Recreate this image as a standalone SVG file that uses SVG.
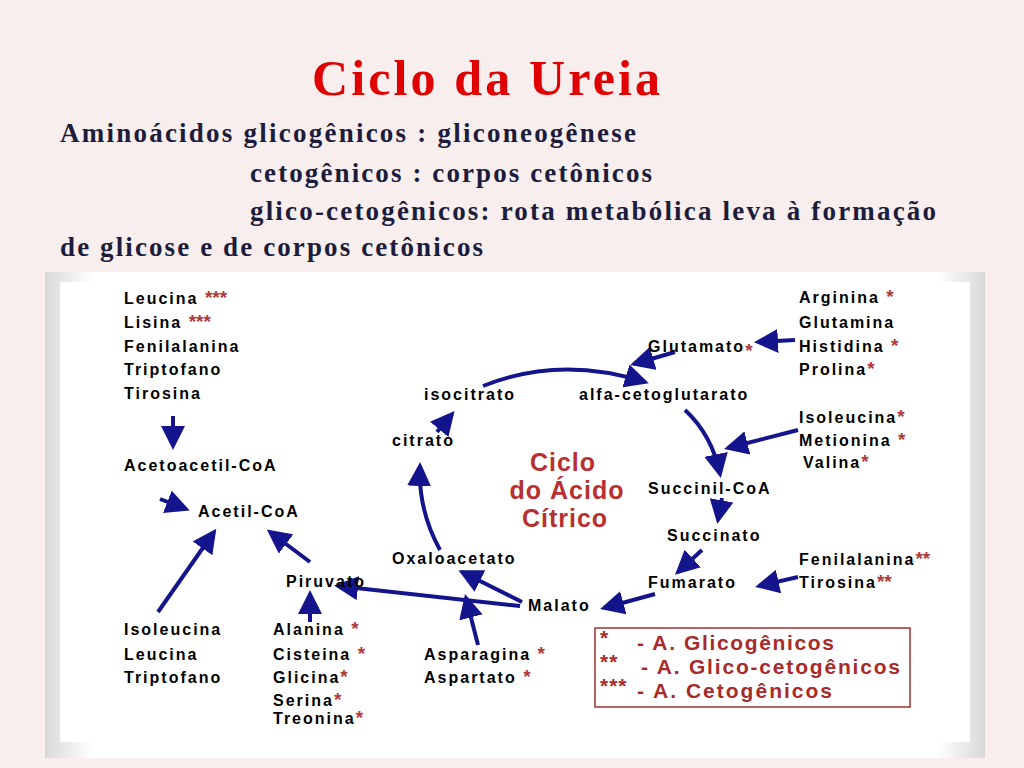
<svg xmlns="http://www.w3.org/2000/svg" width="1024" height="768" viewBox="0 0 1024 768">
<defs>
<marker id="ah" markerWidth="6" markerHeight="6" refX="5" refY="3" orient="auto" markerUnits="strokeWidth"><path d="M0,0 L6,3 L0,6 Z" fill="#14148c"/></marker>
<linearGradient id="bev" x1="0" y1="0" x2="1" y2="0"><stop offset="0" stop-color="#d8d8d8"/><stop offset="0.05" stop-color="#fff"/><stop offset="0.95" stop-color="#fff"/><stop offset="1" stop-color="#d8d8d8"/></linearGradient>
</defs>
<style>
.h{font-family:"Liberation Serif",serif;font-size:27px;font-weight:bold;fill:#1c1c3c}
.l{font-family:"Liberation Sans",Arial,sans-serif;font-weight:bold;font-size:16px;fill:#000;letter-spacing:2px}
.s{fill:#b03a3a;font-size:19px;letter-spacing:0}
.c{font-family:"Liberation Sans",Arial,sans-serif;font-weight:bold;font-size:25px;fill:#b83030;text-anchor:middle;letter-spacing:1px}
.g{font-family:"Liberation Sans",Arial,sans-serif;font-weight:bold;font-size:21px;fill:#a82a2a;letter-spacing:1px}
.a{fill:none;stroke:#14148c;stroke-width:4;marker-end:url(#ah)}
</style>
<rect width="1024" height="768" fill="#f8eeee"/>
<text x="312" y="95" font-family="Liberation Serif,serif" font-size="50" font-weight="bold" fill="#e00000" textLength="348">Ciclo da Ureia</text>
<text class="h" x="60" y="142" textLength="576">Aminoácidos glicogênicos : gliconeogênese</text>
<text class="h" x="250" y="182" textLength="402">cetogênicos : corpos cetônicos</text>
<text class="h" x="250" y="220" textLength="686">glico-cetogênicos: rota metabólica leva à formação</text>
<text class="h" x="60" y="256" textLength="423">de glicose e de corpos cetônicos</text>
<rect x="45" y="272" width="940" height="486" fill="url(#bev)"/>
<rect x="60" y="282" width="910" height="460" fill="#fff"/>
<g id="connectors">
<path class="a" d="M173,416 L173,446"/>
<path class="a" d="M160,499 L186,509"/>
<path class="a" d="M158,612 L214,532"/>
<path class="a" d="M310,562 L270,532"/>
<path class="a" d="M310,622 L310,594"/>
<path class="a" d="M437,432 L452,414"/>
<path class="a" d="M440,550 Q418,510 420,466"/>
<path class="a" d="M483,386 Q560,355 645,382"/>
<path class="a" d="M675,352 L634,364"/>
<path class="a" d="M795,340 L758,342"/>
<path class="a" d="M685,410 Q712,435 720,474"/>
<path class="a" d="M798,430 L728,448"/>
<path class="a" d="M722,498 L718,520"/>
<path class="a" d="M702,550 L678,572"/>
<path class="a" d="M798,577 L759,586"/>
<path class="a" d="M655,594 L604,608"/>
<path class="a" d="M520,606 L338,586"/>
<path class="a" d="M522,602 L462,572"/>
<path class="a" d="M478,645 L466,598"/>
</g>
<g id="left-list"><text class="l" x="124" y="304">Leucina <tspan class="s">***</tspan></text><text class="l" x="124" y="328">Lisina <tspan class="s">***</tspan></text><text class="l" x="124" y="352">Fenilalanina</text><text class="l" x="124" y="375">Triptofano</text><text class="l" x="124" y="399">Tirosina</text></g>
<g id="acetoacetil"><text class="l" x="124" y="471">Acetoacetil-CoA</text></g>
<g id="acetil"><text class="l" x="198" y="517">Acetil-CoA</text></g>
<g id="piruvato"><text class="l" x="286" y="587">Piruvato</text></g>
<g id="ile-list"><text class="l" x="124" y="635">Isoleucina</text><text class="l" x="124" y="660">Leucina</text><text class="l" x="124" y="683">Triptofano</text></g>
<g id="ala-list"><text class="l" x="273" y="635">Alanina <tspan class="s">*</tspan></text><text class="l" x="273" y="660">Cisteina <tspan class="s">*</tspan></text><text class="l" x="273" y="683">Glicina<tspan class="s">*</tspan></text><text class="l" x="273" y="706">Serina<tspan class="s">*</tspan></text><text class="l" x="273" y="724">Treonina<tspan class="s">*</tspan></text></g>
<g id="isocitrato"><text class="l" x="424" y="400">isocitrato</text></g>
<g id="citrato"><text class="l" x="392" y="446">citrato</text></g>
<g id="oxaloacetato"><text class="l" x="392" y="564">Oxaloacetato</text></g>
<g id="ciclo"><text class="c" x="563" y="471">Ciclo</text><text class="c" x="567" y="499">do Ácido</text><text class="c" x="565" y="527">Cítrico</text></g>
<g id="alfa"><text class="l" x="579" y="400">alfa-cetoglutarato</text></g>
<g id="glutamato"><text class="l" x="648" y="352">Glutamato<tspan class="s" dy="5">*</tspan></text></g>
<g id="arg-list"><text class="l" x="799" y="303">Arginina <tspan class="s">*</tspan></text><text class="l" x="799" y="328">Glutamina</text><text class="l" x="799" y="352">Histidina <tspan class="s">*</tspan></text><text class="l" x="799" y="375">Prolina<tspan class="s">*</tspan></text></g>
<g id="ile2-list"><text class="l" x="799" y="423">Isoleucina<tspan class="s">*</tspan></text><text class="l" x="799" y="446">Metionina <tspan class="s">*</tspan></text><text class="l" x="803" y="468">Valina<tspan class="s">*</tspan></text></g>
<g id="succinil"><text class="l" x="648" y="494">Succinil-CoA</text></g>
<g id="succinato"><text class="l" x="667" y="541">Succinato</text></g>
<g id="fumarato"><text class="l" x="648" y="588">Fumarato</text></g>
<g id="phe-list"><text class="l" x="799" y="565">Fenilalanina<tspan class="s">**</tspan></text><text class="l" x="799" y="588">Tirosina<tspan class="s">**</tspan></text></g>
<g id="malato"><text class="l" x="528" y="611">Malato</text></g>
<g id="asn-list"><text class="l" x="424" y="660">Asparagina <tspan class="s">*</tspan></text><text class="l" x="424" y="683">Aspartato <tspan class="s">*</tspan></text></g>
<g id="legend"><rect x="595" y="628" width="315" height="79" fill="none" stroke="#a03030" stroke-width="1.5"/>
<text class="g" x="600" y="645" font-size="11" font-weight="normal">*</text><text class="g" x="637" y="650" textLength="198">- A. Glicogênicos</text>
<text class="g" x="600" y="669" font-size="11" font-weight="normal">**</text><text class="g" x="641" y="674" textLength="260">- A. Glico-cetogênicos</text>
<text class="g" x="600" y="693" font-size="11" font-weight="normal">***</text><text class="g" x="637" y="698" textLength="196">- A. Cetogênicos</text></g>
</svg>
